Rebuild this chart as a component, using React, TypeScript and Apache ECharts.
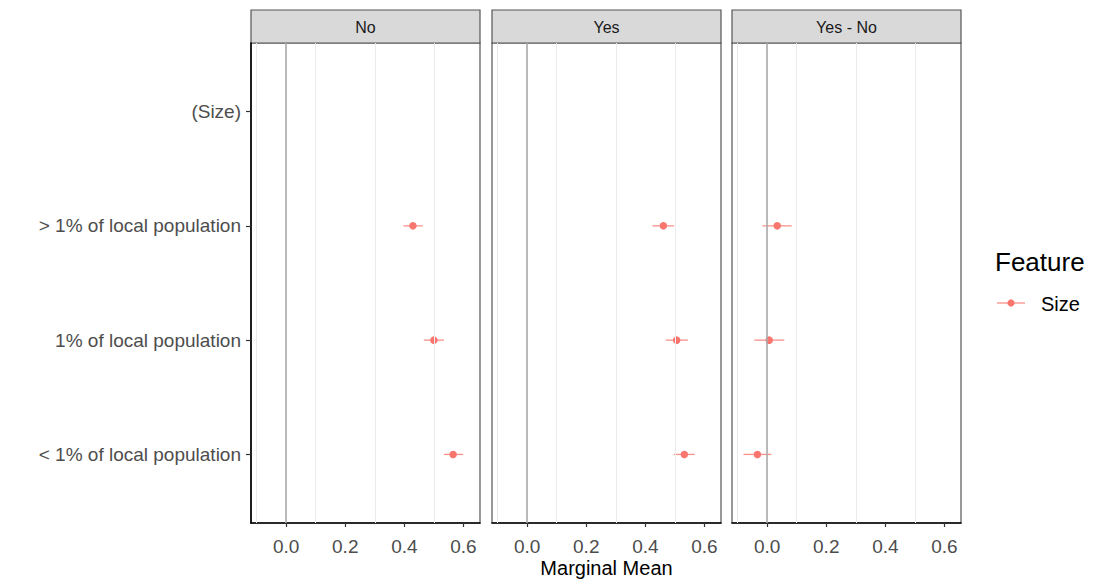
import React, { useEffect, useRef } from "react";
import * as echarts from "echarts";

// Attribute levels, bottom to top
const categories = [
  "< 1% of local population",
  "1% of local population",
  "> 1% of local population",
  "(Size)",
];
const panelTitles = ["No", "Yes", "Yes - No"];
const featureName = "Size";

// Marginal means and 95% intervals for the three size levels (bottom to top)
const noEst = [0.565, 0.5, 0.429];
const noLo = [0.534, 0.466, 0.397];
const noHi = [0.599, 0.534, 0.462];

const yesEst = [0.532, 0.506, 0.461];
const yesLo = [0.496, 0.469, 0.424];
const yesHi = [0.567, 0.544, 0.497];

const diffEst = [-0.033, 0.007, 0.034];
const diffLo = [-0.08, -0.044, -0.016];
const diffHi = [0.014, 0.058, 0.083];

const xTicks = [0, 0.2, 0.4, 0.6];
const minorGrid = [-0.1, 0.1, 0.3, 0.5];
const refLine = 0;

const panelData = [
  { est: noEst, lo: noLo, hi: noHi },
  { est: yesEst, lo: yesLo, hi: yesHi },
  { est: diffEst, lo: diffLo, hi: diffHi },
];

const FONT = "'Liberation Sans', Arial, Helvetica, sans-serif";
const POINT = "#F8766D";
const PANEL_LEFT = [251, 492, 732];
const PANEL_TOP = 43;
const PANEL_W = 229;
const PANEL_H = 480;
const STRIP_TOP = 10;

export default function App() {
  const ref = useRef<HTMLDivElement>(null);

  useEffect(() => {
    if (!ref.current) return;
    const chart = echarts.init(ref.current, undefined, { renderer: "svg" });

    const grids = PANEL_LEFT.map((left) => ({
      left,
      top: PANEL_TOP,
      width: PANEL_W,
      height: PANEL_H,
      show: true,
      borderColor: "#555555",
      borderWidth: 1.2,
      backgroundColor: "#ffffff",
      containLabel: false,
      outerBoundsMode: "none",
    }));

    const xAxes = PANEL_LEFT.map((_, i) => ({
      type: "value",
      gridIndex: i,
      min: -0.119,
      max: 0.656,
      axisLine: { show: true, onZero: false, lineStyle: { color: "#000", width: 1.6 } },
      axisTick: {
        show: true,
        customValues: xTicks,
        length: 4,
        lineStyle: { color: "#333", width: 1.2 },
      },
      axisLabel: {
        show: true,
        customValues: xTicks,
        formatter: (v: number) => v.toFixed(1),
        fontSize: 19,
        lineHeight: 19,
        fontFamily: FONT,
        color: "#4d4d4d",
        margin: 14,
      },
      splitLine: { show: false },
      name: i === 1 ? "Marginal Mean" : "",
      nameLocation: "middle",
      nameGap: 35,
      nameMoveOverlap: false,
      nameTextStyle: { fontSize: 20, lineHeight: 20, fontFamily: FONT, color: "#000" },
    }));

    const yAxes = PANEL_LEFT.map((_, i) => ({
      type: "value",
      gridIndex: i,
      min: 0.4,
      max: 4.6,
      axisLine: { show: i === 0, onZero: false, lineStyle: { color: "#000", width: 1.6 } },
      axisTick: {
        show: i === 0,
        customValues: [1, 2, 3, 4],
        length: 5,
        lineStyle: { color: "#333", width: 1.2 },
      },
      axisLabel: {
        show: i === 0,
        customValues: [1, 2, 3, 4],
        formatter: (v: number) => categories[Math.round(v) - 1] ?? "",
        fontSize: 19,
        fontFamily: FONT,
        color: "#4d4d4d",
        margin: 10,
      },
      splitLine: { show: false },
    }));

    const series: any[] = [];
    panelData.forEach((p, i) => {
      // background grid and zero reference line
      series.push({
        type: "line",
        xAxisIndex: i,
        yAxisIndex: i,
        data: [],
        z: 1,
        silent: true,
        markLine: {
          silent: true,
          symbol: "none",
          label: { show: false },
          animation: false,
          data: [
            ...minorGrid.map((v) => ({
              xAxis: v,
              lineStyle: { color: "#ebebeb", width: 1, type: "solid" },
            })),
            { xAxis: refLine, lineStyle: { color: "#a9a9a9", width: 1.6, type: "solid" } },
          ],
        },
      });
      // confidence intervals
      series.push({
        type: "custom",
        name: featureName,
        xAxisIndex: i,
        yAxisIndex: i,
        z: 2,
        encode: { x: [0, 1], y: 2 },
        data: p.est.map((_, k) => [p.lo[k], p.hi[k], k + 1]),
        renderItem: (_params: any, api: any) => {
          const a = api.coord([api.value(0), api.value(2)]);
          const b = api.coord([api.value(1), api.value(2)]);
          return {
            type: "line",
            shape: { x1: a[0], y1: a[1], x2: b[0], y2: b[1] },
            style: { stroke: POINT, lineWidth: 1.3, opacity: 0.8 },
          };
        },
      });
      // point estimates
      series.push({
        type: "scatter",
        name: featureName,
        xAxisIndex: i,
        yAxisIndex: i,
        z: 3,
        symbol: "circle",
        symbolSize: 7.5,
        itemStyle: { color: POINT, opacity: 1 },
        data: p.est.map((v, k) => [v, k + 1]),
      });
    });

    const graphics: any[] = [];
    PANEL_LEFT.forEach((left, i) => {
      graphics.push({
        type: "rect",
        shape: { x: left, y: STRIP_TOP, width: PANEL_W, height: PANEL_TOP - STRIP_TOP },
        style: { fill: "#d9d9d9", stroke: "#555555", lineWidth: 1.2 },
        silent: true,
      });
      graphics.push({
        type: "text",
        x: left + PANEL_W / 2,
        y: (STRIP_TOP + PANEL_TOP) / 2 + 0.5,
        style: {
          text: panelTitles[i],
          fontSize: 16,
          fontFamily: FONT,
          fill: "#1a1a1a",
          align: "center",
          verticalAlign: "middle",
        },
        silent: true,
      });
    });

    // legend
    graphics.push({
      type: "text",
      x: 995,
      y: 262,
      style: {
        text: "Feature",
        fontSize: 26,
        fontFamily: FONT,
        fill: "#000",
        align: "left",
        verticalAlign: "middle",
      },
    });
    graphics.push({
      type: "line",
      shape: { x1: 997, y1: 303, x2: 1025, y2: 303 },
      style: { stroke: POINT, lineWidth: 1.3, opacity: 0.8 },
    });
    graphics.push({
      type: "circle",
      shape: { cx: 1011, cy: 303, r: 3.6 },
      style: { fill: POINT },
    });
    graphics.push({
      type: "text",
      x: 1041,
      y: 304,
      style: {
        text: featureName,
        fontSize: 20,
        fontFamily: FONT,
        fill: "#000",
        align: "left",
        verticalAlign: "middle",
      },
    });

    chart.setOption({
      animation: false,
      backgroundColor: "#ffffff",
      textStyle: { fontFamily: FONT },
      grid: grids,
      xAxis: xAxes,
      yAxis: yAxes,
      series,
      graphic: graphics,
    });

    return () => chart.dispose();
  }, []);

  return (
    <div
      ref={ref}
      style={{ position: "absolute", left: 0, top: 0, width: 1097, height: 580 }}
    />
  );
}
